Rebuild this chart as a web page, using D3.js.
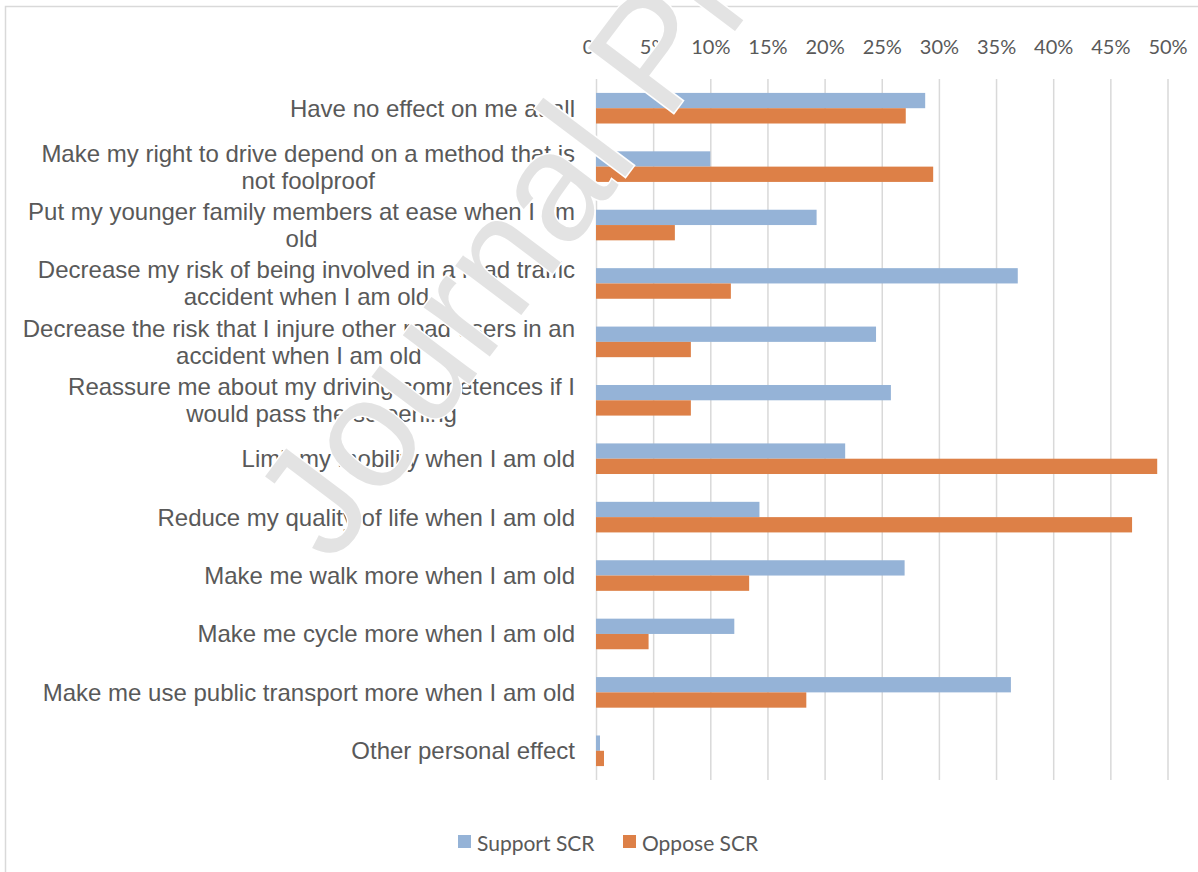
<!DOCTYPE html>
<html>
<head>
<meta charset="utf-8">
<script src="https://cdn.jsdelivr.net/npm/d3@7"></script>
<style>
  body { margin: 0; background: #fff; }
  svg { display: block; }
</style>
</head>
<body>
<svg id="chart" width="1198" height="872"></svg>
<script>
// Perceived personal effects of screening (SCR), share of respondents
const categories = [
  "Have no effect on me at all",
  "Make my right to drive depend on a method that is not foolproof",
  "Put my younger family members at ease when I am old",
  "Decrease my risk of being involved in a road traffic accident when I am old",
  "Decrease the risk that I injure other road users in an accident when I am old",
  "Reassure me about my driving competences if I would pass the screening",
  "Limit my mobility when I am old",
  "Reduce my quality of life when I am old",
  "Make me walk more when I am old",
  "Make me cycle more when I am old",
  "Make me use public transport more when I am old",
  "Other personal effect"
];
const supportSCR = [28.8, 10.0, 19.3, 36.9, 24.5, 25.8, 21.8, 14.3, 27.0, 12.1, 36.3, 0.35];
const opposeSCR  = [27.1, 29.5, 6.9, 11.8, 8.3, 8.3, 49.1, 46.9, 13.4, 4.6, 18.4, 0.7];
const tickValues = [0, 5, 10, 15, 20, 25, 30, 35, 40, 45, 50];
const seriesNames = ["Support SCR", "Oppose SCR"];
const seriesColors = ["#95b3d7", "#dd8047"];
const watermarkText = "Journal Pre-proof";

const svg = d3.select("#chart");
const labelFont = "'Liberation Sans', Arial, sans-serif";
const axisFont = "Lato, 'Open Sans', sans-serif";
const textColor = "#595959";
const gridColor = "#d9d9d9";

// chart frame
svg.append("rect")
  .attr("x", 5.5).attr("y", 6.5)
  .attr("width", 1400).attr("height", 1000)
  .attr("fill", "none").attr("stroke", gridColor).attr("stroke-width", 1.5);

const plotTop = 79, plotBottom = 780;
const x = d3.scaleLinear().domain([0, 50]).range([596, 1167.5]);
const y = d3.scaleBand().domain(categories).range([plotTop, plotBottom]);
const barH = 15.3;

// value axis on top with vertical gridlines
const axis = d3.axisTop(x)
  .tickValues(tickValues)
  .tickFormat(d => d + "%")
  .tickSize(-(plotBottom - plotTop))
  .tickPadding(25);

const gAxis = svg.append("g")
  .attr("transform", `translate(0,${plotTop})`)
  .call(axis);
gAxis.select(".domain").remove();
gAxis.selectAll(".tick line")
  .attr("stroke", gridColor).attr("stroke-width", 1.5);
gAxis.selectAll(".tick text")
  .attr("fill", textColor)
  .style("font-family", axisFont)
  .style("font-size", "20px");

// bars
const rows = categories.map((c, i) => ({ c, s: supportSCR[i], o: opposeSCR[i] }));
const gBars = svg.append("g");
gBars.selectAll("rect.support").data(rows).join("rect")
  .attr("class", "support")
  .attr("x", x(0))
  .attr("y", d => y(d.c) + y.bandwidth() / 2 - barH)
  .attr("width", d => x(d.s) - x(0))
  .attr("height", barH)
  .attr("fill", seriesColors[0]);
gBars.selectAll("rect.oppose").data(rows).join("rect")
  .attr("class", "oppose")
  .attr("x", x(0))
  .attr("y", d => y(d.c) + y.bandwidth() / 2)
  .attr("width", d => x(d.o) - x(0))
  .attr("height", barH)
  .attr("fill", seriesColors[1]);

// category labels, wrapped and centred as a block, right-aligned to the axis
const labelRight = 575, wrapWidth = 558, lineH = 27, labelSize = 24;
const measurer = svg.append("text")
  .style("font-family", labelFont).style("font-size", labelSize + "px");
function textW(s) { measurer.text(s); return measurer.node().getComputedTextLength(); }
function wrap(s) {
  const words = s.split(" ");
  const lines = [];
  let cur = "";
  words.forEach(w => {
    const t = cur ? cur + " " + w : w;
    if (cur && textW(t) > wrapWidth) { lines.push(cur); cur = w; }
    else cur = t;
  });
  if (cur) lines.push(cur);
  return lines;
}
const gLabels = svg.append("g");
categories.forEach(c => {
  const lines = wrap(c);
  const maxW = d3.max(lines, textW);
  const cx = labelRight - maxW / 2;
  const cy = y(c) + y.bandwidth() / 2;
  lines.forEach((ln, k) => {
    gLabels.append("text")
      .attr("x", cx)
      .attr("y", cy + (k - (lines.length - 1) / 2) * lineH)
      .attr("text-anchor", "middle")
      .attr("dominant-baseline", "central")
      .attr("fill", textColor)
      .style("font-family", labelFont)
      .style("font-size", labelSize + "px")
      .text(ln);
  });
});
measurer.remove();

// legend
const legendX = [458, 623], legendY = 842;
const gLeg = svg.append("g");
seriesNames.forEach((n, i) => {
  gLeg.append("rect")
    .attr("x", legendX[i]).attr("y", legendY - 7)
    .attr("width", 13).attr("height", 13)
    .attr("fill", seriesColors[i]);
  gLeg.append("text")
    .attr("x", legendX[i] + 19).attr("y", legendY)
    .attr("dominant-baseline", "central")
    .attr("fill", textColor)
    .style("font-family", axisFont)
    .style("font-size", "21px")
    .text(n);
});

// pre-proof watermark
svg.append("text")
  .attr("transform", "translate(332,566) rotate(-53)")
  .attr("fill", "#e3e3e3")
  .attr("stroke", "#ffffff")
  .attr("stroke-width", 3)
  .style("paint-order", "stroke")
  .style("font-family", labelFont)
  .style("font-size", "156px")
  .text(watermarkText);
</script>
</body>
</html>
